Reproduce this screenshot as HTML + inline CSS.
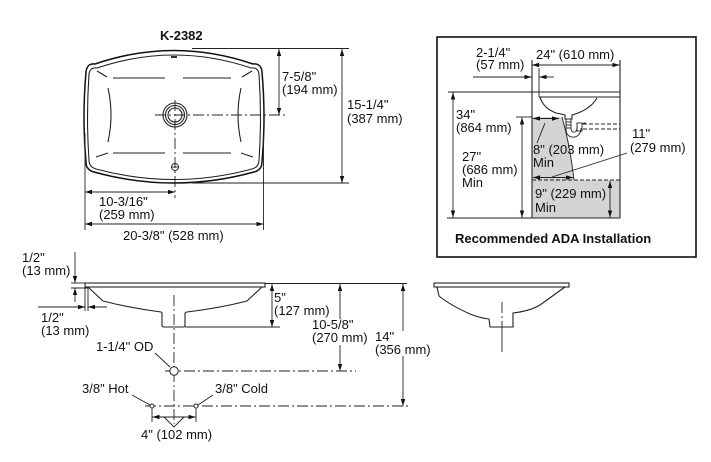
<!DOCTYPE html>
<html><head><meta charset="utf-8"><style>
html,body{margin:0;padding:0;background:#fff;}
svg{display:block;}
text{font-family:"Liberation Sans",Arial,sans-serif;font-size:13px;fill:#111;}
.b{font-weight:bold;}
.l{stroke:#222;stroke-width:0.9;fill:none;}
.o{stroke:#111;stroke-width:1.5;fill:none;}
.m{stroke:#222;stroke-width:1.1;fill:none;}
.c{stroke:#222;stroke-width:0.9;fill:none;stroke-dasharray:11 3 2 3;}
.d{stroke:#222;stroke-width:1;fill:none;stroke-dasharray:4 2;}
</style></head><body>
<svg width="711" height="462" viewBox="0 0 711 462" xmlns="http://www.w3.org/2000/svg">
<defs>
<marker id="a" markerUnits="userSpaceOnUse" markerWidth="8" markerHeight="6" refX="7" refY="2.2" orient="auto-start-reverse">
<path d="M0,0 L7,2.2 L0,4.4 z" fill="#111"/>
</marker>
</defs>
<rect width="711" height="462" fill="#fff"/>

<!-- ===== TOP VIEW ===== -->
<text x="160" y="40" class="b">K-2382</text>
<path class="o" d="M95,64 Q174,37 253,64 Q261,63 262,72 Q266,118 262,162 Q262,170 254,172 Q174,194 94,172 Q86,170 86,162 Q82,118 86,72 Q87,63 95,64 Z"/>
<path class="m" d="M97,68 Q174,42 251,68 Q258,67 259,74 Q262,118 259,160 Q259,167 252,169 Q174,190 96,169 Q89,167 89,160 Q86,118 89,74 Q90,67 97,68 Z"/>
<g class="m">
<line x1="97" y1="71" x2="107" y2="77"/>
<line x1="113" y1="78" x2="165" y2="78"/>
<line x1="183" y1="78" x2="231" y2="78"/>
<line x1="242" y1="77" x2="252" y2="71"/>
<path d="M108,88 Q114,115 108,142"/>
<path d="M241,88 Q235,115 241,142"/>
<line x1="113" y1="153" x2="165" y2="153"/>
<line x1="183" y1="153" x2="231" y2="153"/>
<line x1="96" y1="157" x2="108" y2="153"/>
<line x1="241" y1="153" x2="253" y2="157"/>
</g>
<circle cx="175" cy="115" r="12" class="m"/>
<circle cx="175" cy="115" r="9.5" class="m"/>
<circle cx="175" cy="115" r="7" class="m"/>
<circle cx="175" cy="167" r="3.5" class="l"/>
<line x1="171" y1="167" x2="179" y2="167" class="l"/>
<rect x="171" y="56" width="6" height="2" fill="#333"/>
<line class="c" x1="175" y1="100" x2="175" y2="198"/>
<line class="c" x1="155" y1="115" x2="288" y2="115"/>
<!-- dims -->
<line class="l" x1="192" y1="48.5" x2="349" y2="48.5"/>
<line class="l" x1="192" y1="183" x2="349" y2="183"/>
<line class="l" x1="279" y1="49" x2="279" y2="115" marker-start="url(#a)" marker-end="url(#a)"/>
<line class="l" x1="342" y1="49" x2="342" y2="183" marker-start="url(#a)" marker-end="url(#a)"/>
<text x="282" y="81">7-5/8"</text>
<text x="282" y="94">(194 mm)</text>
<text x="347" y="109">15-1/4"</text>
<text x="347" y="123">(387 mm)</text>
<line class="l" x1="85" y1="133" x2="85" y2="230"/>
<line class="l" x1="263.5" y1="135" x2="263.5" y2="230"/>
<line class="l" x1="85" y1="192" x2="175" y2="192" marker-start="url(#a)" marker-end="url(#a)"/>
<line class="l" x1="85" y1="224" x2="263.5" y2="224" marker-start="url(#a)" marker-end="url(#a)"/>
<text x="99" y="206">10-3/16"</text>
<text x="99" y="219">(259 mm)</text>
<text x="123" y="240">20-3/8" (528 mm)</text>

<!-- ===== ADA BOX ===== -->
<rect x="437" y="37" width="259" height="220" fill="none" stroke="#111" stroke-width="1.6"/>
<path d="M532,117 L562,117 Q570,145 574,180 L620,180 L620,218 L532,218 Z" fill="#d4d4d4"/>
<path class="l" d="M562,117 Q570,145 574,180"/>
<text x="476" y="57">2-1/4"</text>
<text x="476" y="69">(57 mm)</text>
<text x="536" y="59">24" (610 mm)</text>
<line class="l" x1="532" y1="65" x2="619.5" y2="65" marker-start="url(#a)" marker-end="url(#a)"/>
<line class="l" x1="473" y1="77" x2="531.5" y2="77" marker-end="url(#a)"/>
<line class="l" x1="554" y1="77" x2="539.5" y2="77" marker-end="url(#a)"/>
<line class="l" x1="539" y1="68" x2="539" y2="97"/>
<line class="m" x1="532" y1="60" x2="532" y2="218"/>
<line class="m" x1="620" y1="60" x2="620" y2="218"/>
<line class="m" x1="448" y1="92" x2="620" y2="92"/>
<line class="m" x1="539" y1="97" x2="620" y2="97"/>
<line class="m" x1="447" y1="218" x2="620" y2="218"/>
<line class="l" x1="453" y1="92.5" x2="453" y2="217.5" marker-start="url(#a)" marker-end="url(#a)"/>
<line class="l" x1="516" y1="117" x2="532" y2="117"/>
<line class="l" x1="522" y1="117.5" x2="522" y2="217.5" marker-start="url(#a)" marker-end="url(#a)"/>
<!-- bowl -->
<path class="m" d="M540,97 Q543,108 556,113 L565,115 L565,119 L572,119 L572,115 Q590,110 597,98"/>
<g class="l">
<path d="M566,119 L566,130 Q567,138 575,137 Q581,135 581,128"/>
<path d="M571,119 L571,129 Q572,133 575,132 Q577,131 577,127"/>
<line x1="566" y1="122" x2="571" y2="122"/>
<line x1="566" y1="125" x2="571" y2="125"/>
<line x1="566" y1="128" x2="571" y2="128"/>
<rect x="577" y="123" width="5" height="8"/>
<path d="M582,124.5 Q583,123 586,123"/>
</g>
<line class="d" x1="583" y1="124" x2="620" y2="124"/>
<line class="d" x1="583" y1="129" x2="620" y2="129"/>
<line class="l" x1="533" y1="118.5" x2="559" y2="118.5" marker-start="url(#a)" marker-end="url(#a)"/>
<line class="l" x1="545" y1="123" x2="537" y2="143"/>
<line class="d" x1="532" y1="180" x2="620" y2="180"/>
<line class="l" x1="533" y1="177.5" x2="573" y2="177.5" marker-start="url(#a)" marker-end="url(#a)"/>
<line class="l" x1="627" y1="153" x2="552" y2="177"/>
<line class="l" x1="610" y1="181" x2="610" y2="217.5" marker-start="url(#a)" marker-end="url(#a)"/>
<text x="456" y="119">34"</text>
<text x="456" y="132">(864 mm)</text>
<text x="462" y="161">27"</text>
<text x="462" y="174">(686 mm)</text>
<text x="462" y="187">Min</text>
<text x="533" y="154">8" (203 mm)</text>
<text x="533" y="167">Min</text>
<text x="632" y="138">11"</text>
<text x="630" y="152">(279 mm)</text>
<text x="535" y="198">9" (229 mm)</text>
<text x="535" y="212">Min</text>
<text x="455" y="243" class="b">Recommended ADA Installation</text>

<!-- ===== SIDE VIEW LEFT ===== -->
<rect x="85" y="283" width="180" height="4" class="m"/>
<path class="m" d="M88,287 L103,301 Q130,308 161,312 Q162,312 162,314 L162,325 Q162,327 164,327 L183,327 Q185,327 185,325 L185,314 Q185,312 187,312 Q220,308 247,301 L262,287"/>
<line class="c" x1="174" y1="295" x2="174" y2="424"/>
<text x="22" y="262">1/2"</text>
<text x="22" y="275">(13 mm)</text>
<line class="l" x1="71" y1="283" x2="85" y2="283"/>
<line class="l" x1="71" y1="288" x2="88" y2="288"/>
<line class="l" x1="75" y1="252" x2="75" y2="283" marker-end="url(#a)"/>
<line class="l" x1="75" y1="302" x2="75" y2="288" marker-end="url(#a)"/>
<line class="l" x1="85" y1="287" x2="85" y2="311"/>
<line class="l" x1="88" y1="287" x2="88" y2="311"/>
<line class="l" x1="38" y1="307" x2="85" y2="307" marker-end="url(#a)"/>
<line class="l" x1="107" y1="307" x2="88" y2="307" marker-end="url(#a)"/>
<text x="41" y="322">1/2"</text>
<text x="41" y="335">(13 mm)</text>
<!-- dims right -->
<line class="l" x1="265" y1="283.5" x2="407" y2="283.5"/>
<line class="l" x1="185" y1="327" x2="280" y2="327"/>
<line class="l" x1="272" y1="284" x2="272" y2="327" marker-start="url(#a)" marker-end="url(#a)"/>
<line class="l" x1="340" y1="284" x2="340" y2="319" marker-start="url(#a)"/>
<line class="l" x1="340" y1="345" x2="340" y2="371" marker-end="url(#a)"/>
<line class="l" x1="403" y1="284" x2="403" y2="331" marker-start="url(#a)"/>
<line class="l" x1="403" y1="356" x2="403" y2="406" marker-end="url(#a)"/>
<text x="274" y="302">5"</text>
<text x="274" y="315">(127 mm)</text>
<text x="312" y="329">10-5/8"</text>
<text x="312" y="342">(270 mm)</text>
<text x="375" y="341">14"</text>
<text x="375" y="354">(356 mm)</text>
<line class="c" x1="165" y1="371" x2="356" y2="371"/>
<circle cx="174" cy="371" r="4.2" fill="#fff" stroke="#222" stroke-width="1"/>
<text x="96" y="351">1-1/4" OD</text>
<line class="l" x1="155" y1="353" x2="170" y2="367"/>
<line class="c" x1="145" y1="406" x2="409" y2="406"/>
<circle cx="152" cy="406" r="2" fill="#fff" stroke="#222" stroke-width="0.9"/>
<circle cx="196" cy="406" r="2" fill="#fff" stroke="#222" stroke-width="0.9"/>
<text x="82" y="393">3/8" Hot</text>
<line class="l" x1="132" y1="395" x2="150" y2="405"/>
<text x="215" y="393">3/8" Cold</text>
<line class="l" x1="213" y1="395" x2="198" y2="405"/>
<line class="l" x1="152" y1="408" x2="152" y2="422"/>
<line class="l" x1="196" y1="408" x2="196" y2="422"/>
<line class="l" x1="152.5" y1="417" x2="195.5" y2="417" marker-start="url(#a)" marker-end="url(#a)"/>
<polyline class="l" points="164,417 174,427 184,417"/>
<text x="141" y="439">4" (102 mm)</text>

<!-- ===== SIDE VIEW RIGHT ===== -->
<rect x="434" y="283" width="135" height="4" class="m"/>
<path class="m" d="M437,287 L439,296 Q450,305 470,314 Q480,318 489,319 L490,327 L513,327 L513,313 Q530,311 540,305 L565,287"/>
<line class="c" x1="502" y1="302" x2="502" y2="327"/>
<line class="l" x1="502" y1="327" x2="502" y2="352"/>
</svg>
</body></html>
